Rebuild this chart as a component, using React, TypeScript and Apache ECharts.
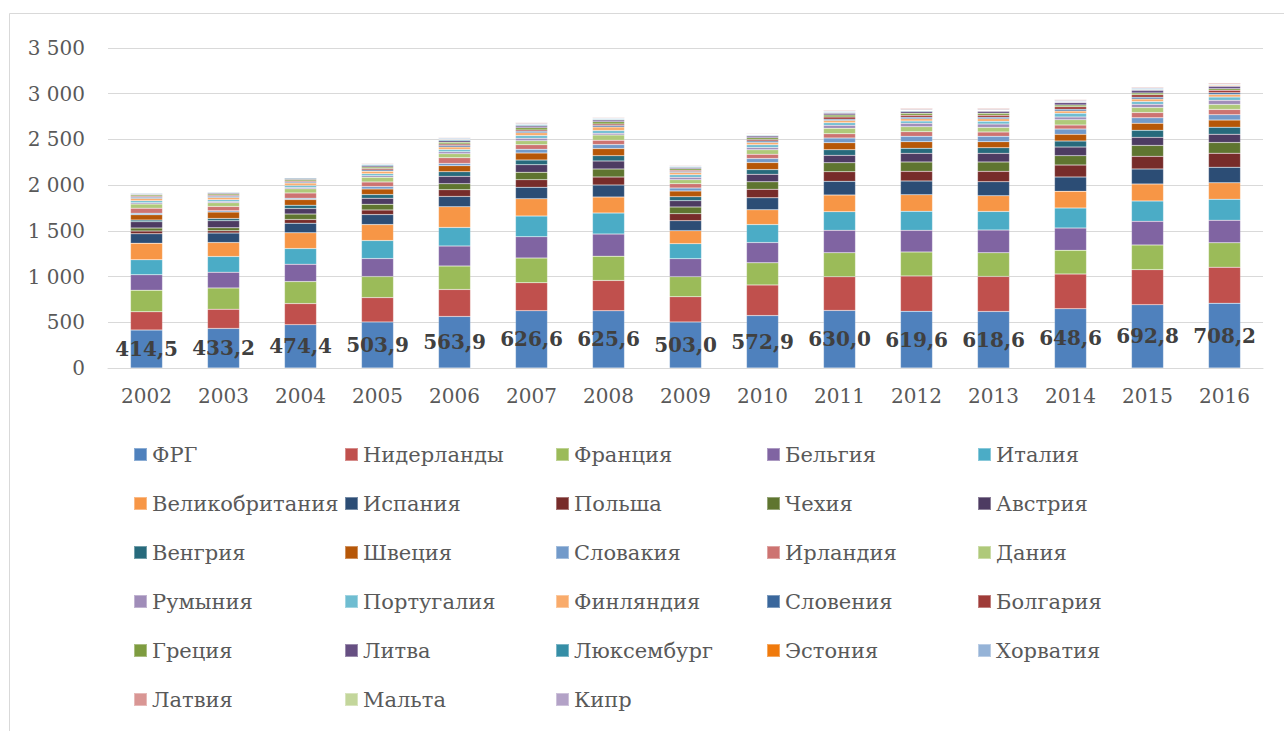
import React, { useEffect, useRef } from 'react';
import * as echarts from 'echarts';

const years = ['2002', '2003', '2004', '2005', '2006', '2007', '2008', '2009', '2010', '2011', '2012', '2013', '2014', '2015', '2016'];

const countries = [
  'ФРГ', 'Нидерланды', 'Франция', 'Бельгия', 'Италия',
  'Великобритания', 'Испания', 'Польша', 'Чехия', 'Австрия',
  'Венгрия', 'Швеция', 'Словакия', 'Ирландия', 'Дания',
  'Румыния', 'Португалия', 'Финляндия', 'Словения', 'Болгария',
  'Греция', 'Литва', 'Люксембург', 'Эстония', 'Хорватия',
  'Латвия', 'Мальта', 'Кипр',
];

const frg = [414.5, 433.2, 474.4, 503.9, 563.9, 626.6, 625.6, 503.0, 572.9, 630.0, 619.6, 618.6, 648.6, 692.8, 708.2];
const netherlands = [200, 210, 230, 266, 295, 306, 332, 277, 336, 368, 387, 383, 379, 383, 394];
const france = [237, 233, 241, 230, 256, 270, 266, 219, 241, 263, 263, 259, 259, 270, 267];
const belgium = [168, 172, 190, 197, 219, 233, 241, 197, 222, 245, 236, 248, 244, 258, 247];
const italy = [164, 171, 171, 197, 204, 226, 230, 164, 197, 204, 208, 204, 219, 223, 230];
const uk = [182, 153, 172, 175, 226, 190, 175, 142, 161, 182, 182, 172, 183, 186, 179];
const spain = [102, 103, 106, 109, 113, 125, 131, 109, 131, 150, 150, 153, 156, 164, 171];
const poland = [30, 25, 40, 51, 73, 83, 88, 77, 94, 105, 105, 113, 131, 138, 153];
const czechia = [33, 33, 59, 62, 66, 81, 88, 73, 81, 98, 103, 103, 103, 120, 117];
const austria = [69, 77, 61, 66, 80, 83, 88, 69, 83, 81, 94, 94, 94, 88, 91];
const hungary = [18, 25, 37, 40, 51, 51, 58, 44, 51, 61, 55, 62, 66, 77, 77];
const sweden = [58, 70, 61, 62, 66, 77, 77, 62, 77, 77, 73, 66, 73, 77, 77];
const slovakia = [18, 15, 15, 25, 25, 40, 44, 33, 44, 51, 58, 58, 58, 59, 59];
const ireland = [55, 47, 58, 51, 62, 50, 47, 47, 47, 47, 51, 48, 44, 58, 58];
const denmark = [44, 40, 44, 51, 44, 45, 58, 44, 48, 59, 55, 50, 59, 55, 55];
const romania = [15, 14, 16, 18, 20, 26, 18, 25, 25, 33, 36, 37, 29, 36, 44];
const portugal = [22, 20, 22, 22, 26, 30, 30, 28, 30, 28, 26, 29, 40, 29, 36];
const finland = [25, 24, 25, 26, 28, 30, 40, 24, 25, 24, 25, 28, 25, 29, 29];
const slovenia = [13, 12, 13, 15, 17, 16, 17, 13, 16, 16, 16, 16, 19, 19, 18];
const bulgaria = [10, 11, 10, 14, 14, 15, 16, 12, 17, 24, 22, 24, 27, 27, 27];
const greece = [14, 15, 15, 17, 20, 24, 24, 16, 20, 22, 21, 20, 20, 20, 18];
const lithuania = [10, 10, 12, 15, 18, 19, 19, 14, 18, 19, 21, 22, 27, 29, 26];
const luxembourg = [8, 8, 9, 9, 10, 10, 9, 8, 8, 8, 8, 7, 7, 7, 7];
const estonia = [5, 5, 5, 5, 6, 6, 4, 4, 5, 5, 5, 5, 5, 5, 6];
const croatia = [5, 4, 4, 6, 10, 11, 9, 8, 8, 9, 9, 9, 9, 10, 10];
const latvia = [4, 4, 5, 8, 8, 11, 9, 7, 8, 10, 12, 13, 13, 12, 12];
const malta = [1, 1, 1, 1, 1, 1, 1, 1, 1, 1, 1, 1, 1, 1, 1];
const cyprus = [1, 1, 1, 1, 2, 2, 1, 1, 1, 2, 2, 1, 1, 1, 1];

const seriesValues = [
  frg, netherlands, france, belgium, italy,
  uk, spain, poland, czechia, austria,
  hungary, sweden, slovakia, ireland, denmark,
  romania, portugal, finland, slovenia, bulgaria,
  greece, lithuania, luxembourg, estonia, croatia,
  latvia, malta, cyprus,
];

const COLORS = [
  '#4F81BD', '#C0504D', '#9BBB59', '#8064A2', '#4BACC6',
  '#F79646', '#2C4D75', '#772C2A', '#5F7530', '#4D3B62',
  '#276A7C', '#B65708', '#729ACA', '#CD7371', '#AFC97A',
  '#A08DB9', '#6FBDD1', '#F9AB6B', '#3A679C', '#9F3B38',
  '#7E9C40', '#664F82', '#358EA6', '#F07A0C', '#95B3D7',
  '#D99694', '#C3D69B', '#B3A2C7',
];

const FONT = 'DejaVu Serif';
const legendColumnsX = [133, 344, 555, 766, 977];

export default function App() {
  const ref = useRef<HTMLDivElement>(null);

  useEffect(() => {
    if (!ref.current) return;
    const chart = echarts.init(ref.current, undefined, { renderer: 'svg' });

    const legends = legendColumnsX.map((x, c) => ({
      orient: 'vertical',
      left: x,
      top: 444,
      padding: 0,
      itemWidth: 13,
      itemHeight: 13,
      itemGap: 28,
      icon: 'rect',
      selectedMode: false,
      data: countries.filter((_, i) => i % 5 === c),
      textStyle: { fontFamily: FONT, fontSize: 21, color: '#595959', lineHeight: 20 },
    }));

    chart.setOption({
      animation: false,
      color: COLORS,
      textStyle: { fontFamily: FONT },
      graphic: [
        {
          type: 'rect',
          silent: true,
          z: -10,
          shape: { x: 9.5, y: 13.5, width: 1300, height: 740 },
          style: { fill: 'none', stroke: '#D9D9D9', lineWidth: 1 },
        },
      ],
      grid: { left: 108, right: 21, top: 48, bottom: 363 },
      legend: legends,
      xAxis: {
        type: 'category',
        data: years,
        axisTick: { show: false },
        axisLine: { lineStyle: { color: '#D9D9D9', width: 1 } },
        axisLabel: { color: '#595959', fontSize: 20, fontFamily: FONT, margin: 18 },
      },
      yAxis: {
        type: 'value',
        min: 0,
        max: 3500,
        interval: 500,
        axisLine: { show: false },
        axisTick: { show: false },
        splitLine: { lineStyle: { color: '#D9D9D9', width: 1 } },
        axisLabel: {
          color: '#595959',
          fontSize: 20,
          fontFamily: FONT,
          margin: 23,
          formatter: (v: number) => String(v).replace(/\B(?=(\d{3})+(?!\d))/g, ' '),
        },
      },
      series: countries.map((name, i) => ({
        type: 'bar',
        name,
        stack: 'total',
        data: seriesValues[i],
        barWidth: 32,
        itemStyle: { borderColor: 'rgba(255,255,255,0.35)', borderWidth: 0.5 },
        label:
          i === 0
            ? {
                show: true,
                position: 'inside',
                fontFamily: FONT,
                fontWeight: 'bold',
                fontSize: 20,
                color: '#404040',
                formatter: (p: any) => Number(p.value).toFixed(1).replace('.', ','),
              }
            : { show: false },
      })),
    });

    return () => chart.dispose();
  }, []);

  return (
    <div
      ref={ref}
      style={{ position: 'absolute', left: 0, top: 0, width: 1284, height: 731, background: '#fff' }}
    />
  );
}
